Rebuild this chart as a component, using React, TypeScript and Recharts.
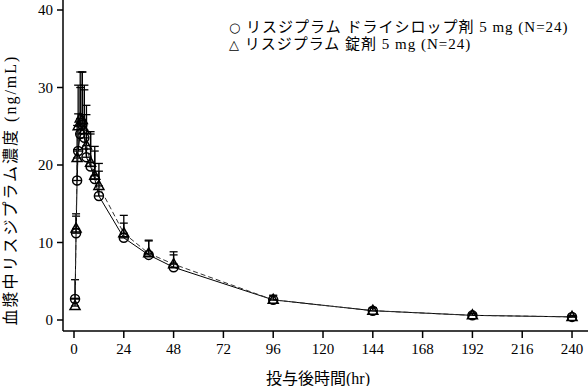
import React from 'react';
import { LineChart, Line, XAxis, YAxis, ErrorBar } from 'recharts';

const times = [0.5, 1, 1.5, 2, 3, 4, 5, 6, 8, 10, 12, 24, 36, 48, 96, 144, 192, 240];
const syrupMean = [2.7, 11.2, 18.0, 21.8, 24.0, 25.2, 23.5, 21.0, 19.8, 18.2, 16.0, 10.6, 8.4, 6.8, 2.6, 1.2, 0.6, 0.4];
const syrupSD = [2.5, 2.2, 4.0, 4.8, 6.0, 6.8, 6.2, 5.5, 4.2, 3.6, 3.2, 1.9, 1.8, 1.6, 0.5, 0.35, 0.25, 0.15];
const tabletMean = [1.8, 11.8, 20.9, 25.0, 26.0, 25.8, 24.5, 22.5, 20.3, 18.6, 17.3, 11.2, 8.6, 7.2, 2.6, 1.2, 0.6, 0.4];
const tabletSD = [1.0, 1.9, 4.2, 5.3, 6.0, 6.2, 5.8, 5.2, 4.0, 3.8, 2.9, 2.3, 1.7, 1.6, 0.6, 0.4, 0.3, 0.2];
const xTicks = [0, 24, 48, 72, 96, 120, 144, 168, 192, 216, 240];
const yTicks = [0, 10, 20, 30, 40];

const legendSymbols = ['○', '△'];
const legendLabels = ['リスジプラム ドライシロップ剤 5 mg (N=24)', 'リスジプラム 錠剤 5 mg (N=24)'];
const xTitle = '投与後時間(hr)';
const yTitle = '血漿中リスジプラム濃度 (ng/mL)';

const data = times.map((t, i) => ({
  t,
  syrup: syrupMean[i],
  syrupErr: [0, syrupSD[i]],
  tablet: tabletMean[i],
  tabletErr: [0, tabletSD[i]],
}));

const FONT = '"Liberation Serif", "Noto Sans CJK JP", serif';

const Triangle = (props: any) => {
  const { cx, cy, index } = props;
  if (cx == null || cy == null) return <g key={index} />;
  return (
    <path
      key={index}
      d={`M${cx},${cy - 5.5} L${cx + 5},${cy + 3.5} L${cx - 5},${cy + 3.5} Z`}
      fill="none"
      stroke="#000"
      strokeWidth={1.5}
    />
  );
};

export default function App() {
  return (
    <div style={{ position: 'absolute', left: 0, top: 0, width: 588, height: 386, background: '#fff' }}>
      <LineChart width={588} height={386} data={data} margin={{ top: 0, right: 0, bottom: 0, left: 0 }}>
        <XAxis
          dataKey="t"
          type="number"
          domain={[-5.3, 247.7]}
          ticks={xTicks}
          allowDataOverflow
          height={55}
          stroke="#000"
          strokeWidth={1.5}
          tickSize={7}
          tickMargin={5}
          tick={{ fill: '#000', fontSize: 15, fontFamily: FONT }}
          label={{
            content: () => (
              <text x={318} y={378} textAnchor="middle" dominantBaseline="central" fontSize={16} fontFamily={FONT} fill="#000">
                {xTitle}
              </text>
            ),
          }}
        />
        <YAxis
          type="number"
          domain={[-1.42, 41.29]}
          ticks={yTicks}
          allowDataOverflow
          width={63}
          stroke="#000"
          strokeWidth={1.5}
          tickSize={6}
          tickMargin={4}
          tick={{ fill: '#000', fontSize: 15, fontFamily: FONT }}
          label={{
            content: () => (
              <text
                x={10}
                y={190}
                transform="rotate(-90 10 190)"
                textAnchor="middle"
                dominantBaseline="central"
                fontSize={16}
                letterSpacing={2}
                fontFamily={FONT}
                fill="#000"
              >
                {yTitle}
              </text>
            ),
          }}
        />
        <Line
          dataKey="syrup"
          type="linear"
          stroke="#000"
          strokeWidth={1}
          dot={{ r: 4.5, stroke: '#000', strokeWidth: 1.5, fill: 'none' }}
          activeDot={false}
          isAnimationActive={false}
        >
          <ErrorBar dataKey="syrupErr" direction="y" width={4} stroke="#000" strokeWidth={1.3} isAnimationActive={false} />
        </Line>
        <Line
          dataKey="tablet"
          type="linear"
          stroke="#333"
          strokeWidth={1}
          strokeDasharray="5 3"
          dot={<Triangle />}
          activeDot={false}
          isAnimationActive={false}
        >
          <ErrorBar dataKey="tabletErr" direction="y" width={4} stroke="#000" strokeWidth={1.3} isAnimationActive={false} />
        </Line>
      </LineChart>
      <div
        style={{
          position: 'absolute',
          left: 229,
          top: 19,
          fontFamily: FONT,
          fontSize: 15,
          letterSpacing: '1px',
          color: '#000',
          whiteSpace: 'pre',
        }}
      >
        {legendLabels.map((label, i) => (
          <div key={i} style={{ height: 17, lineHeight: '17px' }}>
            <span style={{ fontFamily: '"DejaVu Sans"', fontSize: 13 }}>{legendSymbols[i]}</span>
            {' ' + label}
          </div>
        ))}
      </div>
    </div>
  );
}
